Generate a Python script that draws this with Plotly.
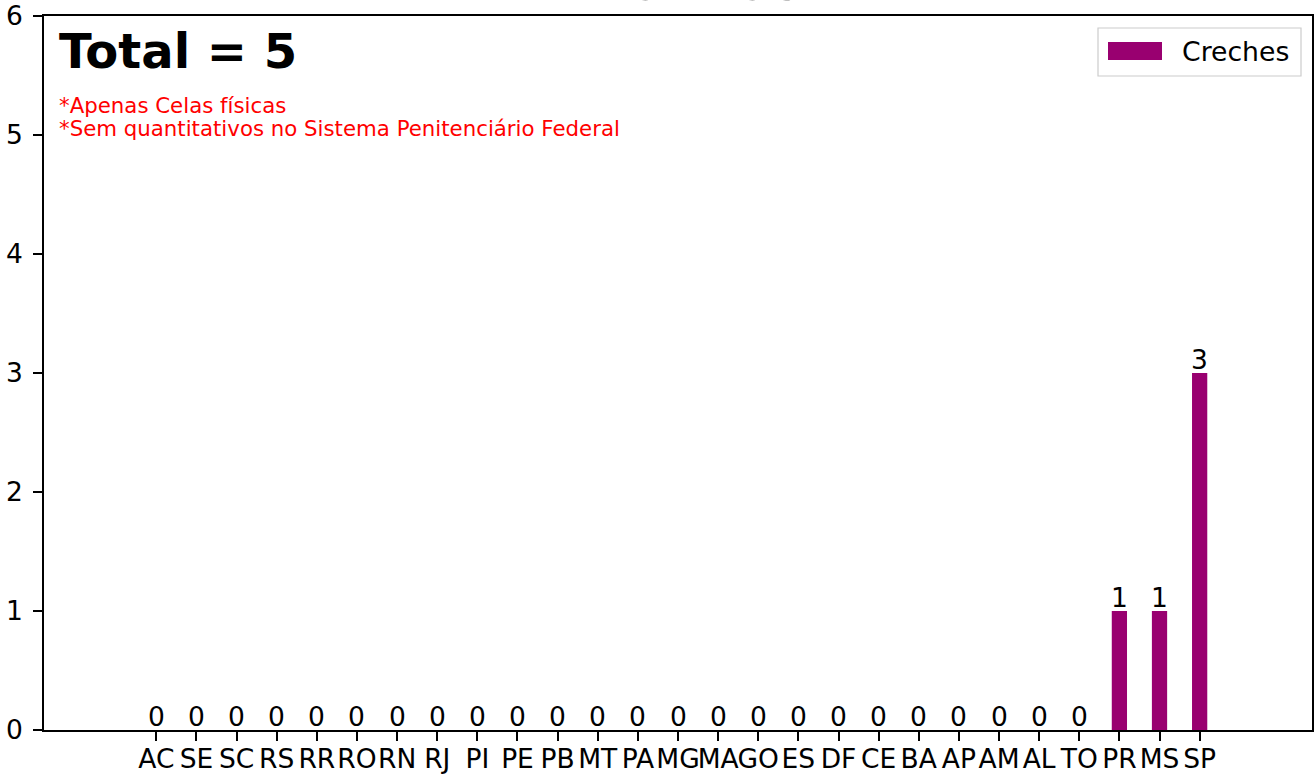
import plotly.graph_objects as go

estados = ["AC", "SE", "SC", "RS", "RR", "RO", "RN", "RJ", "PI", "PE", "PB", "MT", "PA", "MG",
           "MA", "GO", "ES", "DF", "CE", "BA", "AP", "AM", "AL", "TO", "PR", "MS", "SP"]
creches = [0, 0, 0, 0, 0, 0, 0, 0, 0, 0, 0, 0, 0, 0,
           0, 0, 0, 0, 0, 0, 0, 0, 0, 0, 1, 1, 3]
serie_nome = "Creches"
titulo = "Creches"
notas = ["*Apenas Celas físicas", "*Sem quantitativos no Sistema Penitenciário Federal"]

COR = "#990070"
FONT = "DejaVu Sans"

W, H = 1314, 774
L, R, T, B = 44, 1312, 16, 730


def px(x):
    return (x - L) / (R - L)


def py(y):
    return (B - y) / (B - T)


xs = list(range(len(estados)))

fig = go.Figure()
fig.add_trace(go.Bar(
    x=xs, y=creches, name=serie_nome,
    marker=dict(color=COR, line=dict(width=0)), width=0.38,
    cliponaxis=False, showlegend=False,
))

total = sum(creches)

annotations = [
    dict(text=f"<b>{titulo}</b>", xref="paper", yref="paper", x=px(681), y=py(-19),
         xanchor="center", yanchor="middle", showarrow=False,
         font=dict(family=FONT, size=54, color="black")),
    dict(text=f"<b>Total = {total}</b>", xref="paper", yref="paper", x=px(57), y=py(51),
         xanchor="left", yanchor="middle", showarrow=False,
         font=dict(family=FONT, size=48, color="black")),
    dict(text=notas[0], xref="paper", yref="paper", x=px(57), y=py(105),
         xanchor="left", yanchor="middle", showarrow=False,
         font=dict(family=FONT, size=21.3, color="red")),
    dict(text=notas[1], xref="paper", yref="paper", x=px(57), y=py(128),
         xanchor="left", yanchor="middle", showarrow=False,
         font=dict(family=FONT, size=21.3, color="red")),
    dict(text=serie_nome, xref="paper", yref="paper", x=px(1180), y=py(51),
         xanchor="left", yanchor="middle", showarrow=False,
         font=dict(family=FONT, size=26.7, color="black")),
]

# value labels above each bar, positioned by the data axes
for xi, v in zip(xs, creches):
    annotations.append(dict(
        text=str(v), xref="x", yref="y", x=xi, y=v, xanchor="center", yanchor="bottom",
        yshift=-4, showarrow=False, font=dict(family=FONT, size=26.5, color="black")))

shapes = [
    dict(type="rect", xref="paper", yref="paper", x0=px(1098), x1=px(1301), y0=py(76), y1=py(28),
         line=dict(color="#cccccc", width=1.2), fillcolor="rgba(255,255,255,0.8)", layer="above"),
    dict(type="rect", xref="paper", yref="paper", x0=px(1108), x1=px(1162), y0=py(60), y1=py(42),
         line=dict(width=0), fillcolor=COR, layer="above"),
]

axis_common = dict(showline=True, linecolor="black", linewidth=1.8, mirror=True,
                   ticks="outside", ticklen=9, tickwidth=1.5, tickcolor="black",
                   showgrid=False, zeroline=False, automargin=False,
                   tickfont=dict(family=FONT, size=26.5, color="black"))

fig.update_layout(
    width=W, height=H,
    margin=dict(l=L, r=W - R, t=T, b=H - B, pad=0, autoexpand=False),
    paper_bgcolor="white", plot_bgcolor="white",
    xaxis=dict(range=[-2.8, 28.8], tickmode="array", tickvals=xs,
               ticktext=estados, tickangle=0, ticklabelstandoff=-5, **axis_common),
    yaxis=dict(range=[0, 6], tickmode="linear", tick0=0, dtick=1, ticklabelstandoff=5,
               **axis_common),
    annotations=annotations, shapes=shapes,
    font=dict(family=FONT),
)

fig.write_html("out.html", config={"displayModeBar": False},
               post_script="document.body.style.margin='0px';document.body.style.overflow='hidden';")
